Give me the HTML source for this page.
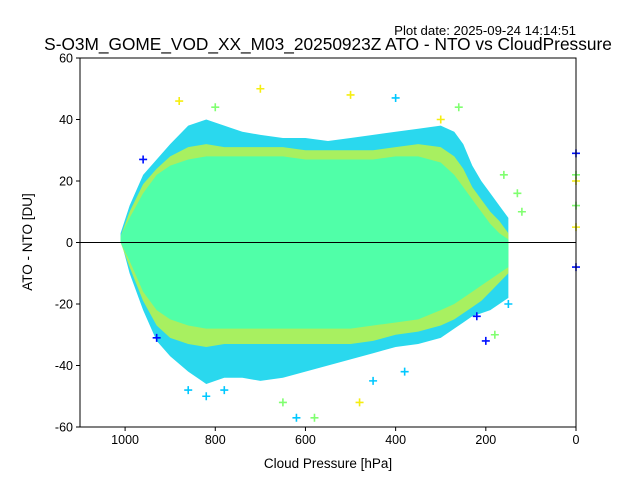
<!DOCTYPE html>
<html><head><meta charset="utf-8"><style>
body{margin:0;background:#fff;}
svg{display:block;font-family:"Liberation Sans","DejaVu Sans",sans-serif;}
</style></head><body>
<svg id="chart" width="640" height="480" viewBox="0 0 640 480">
<rect width="640" height="480" fill="#fff"/>
<text x="576" y="35" text-anchor="end" font-size="13.2">Plot date: 2025-09-24 14:14:51</text>
<text x="328" y="50" text-anchor="middle" font-size="17.3">S-O3M_GOME_VOD_XX_M03_20250923Z ATO - NTO vs CloudPressure</text>
<g id="marks"></g>
<g id="axes"></g>
<text x="328" y="468" text-anchor="middle" font-size="13.5">Cloud Pressure [hPa]</text>
<text x="32" y="242" text-anchor="middle" font-size="13.5" transform="rotate(-90 32 242)">ATO - NTO [DU]</text>
</svg>
<script>
const pressures=[1010,990,960,930,900,860,820,780,740,700,650,600,550,500,450,400,350,300,270,250,230,210,190,170,150];
const outerHi=[3,12,22,27,32,38,40,38,36,35,34,34,33,34,35,36,37,38,36,32,25,20,16,12,8];
const outerLo=[1,-10,-22,-32,-37,-42,-46,-44,-44,-45,-44,-42,-40,-38,-36,-34,-33,-31,-28,-26,-24,-23,-22,-20,-18];
const yelHi=[2,10,19,24,28,31,32,31,31,31,31,30,30,30,30,31,32,31,28,24,18,14,10,7,3];
const yelLo=[0,-8,-19,-27,-31,-33,-34,-33,-33,-33,-33,-33,-33,-33,-32,-30,-29,-27,-25,-23,-21,-19,-16,-13,-10];
const innerHi=[2,8,16,22,25,27,28,28,28,28,28,27,27,27,27,28,28,26,22,18,14,10,6,3,1];
const innerLo=[0,-6,-16,-22,-25,-27,-28,-28,-28,-28,-28,-28,-28,-28,-27,-26,-25,-22,-20,-18,-16,-14,-12,-10,-8];
const outP=[960,930,880,860,820,800,780,700,650,620,580,500,480,450,400,380,300,260,220,200,180,160,150,130,120,0,0,0,0,0,0];
const outV=[27,-31,46,-48,-50,44,-48,50,-52,-57,-57,48,-52,-45,47,-42,40,44,-24,-32,-30,22,-20,16,10,29,20,12,5,-8,22];
const outC=["#0010ff","#0010ff","#f5ee10","#00c8ff","#00c8ff","#80ff70","#00c8ff","#f5ee10","#80ff70","#00c8ff","#80ff70","#f5ee10","#f5ee10","#00c8ff","#00c8ff","#00c8ff","#f5ee10","#80ff70","#0010ff","#0010ff","#80ff70","#80ff70","#00c8ff","#80ff70","#80ff70","#0010ff","#f5ee10","#80ff70","#f5ee10","#0010ff","#80ff70"];
const xTicks=[1000,800,600,400,200,0];
const yTicks=[60,40,20,0,-20,-40,-60];
const L=80,R=576,T=58,B=427;
const xs=p=>L+(1100-p)/1100*(R-L);
const ys=v=>T+(60-v)/120*(B-T);
const NS="http://www.w3.org/2000/svg";
const marks=document.getElementById('marks'),axes=document.getElementById('axes');
function mk(tag,attrs,parent){const e=document.createElementNS(NS,tag);for(const k in attrs)e.setAttribute(k,attrs[k]);parent.appendChild(e);return e;}
function band(hi,lo,fill){let pts=pressures.map((p,i)=>xs(p)+','+ys(hi[i]));for(let i=pressures.length-1;i>=0;i--)pts.push(xs(pressures[i])+','+ys(lo[i]));return mk('polygon',{points:pts.join(' '),fill:fill},marks);}
const ob=band(outerHi,outerLo,"#2ad8ee");


const yb=band(yelHi,yelLo,"#a8f060");


const ib=band(innerHi,innerLo,"#50ffa8");


outP.forEach((p,i)=>{const x=xs(p),y=ys(outV[i]);
const g=mk('path',{d:`M${x-4} ${y}H${x+4}M${x} ${y-4}V${y+4}`,stroke:outC[i],'stroke-width':1.6},marks);

});
const zl=mk('line',{x1:L,x2:R,y1:ys(0),y2:ys(0),stroke:'#000','stroke-width':1},axes);


const fr=mk('rect',{x:L,y:T,width:R-L,height:B-T,fill:'none',stroke:'#000','stroke-width':1},axes);


xTicks.forEach(t=>{const x=xs(t);mk('line',{x1:x,x2:x,y1:B,y2:B+4,stroke:'#000'},axes);
const tx=mk('text',{x:x,y:B+17,'text-anchor':'middle','font-size':12.5},axes);tx.textContent=t;

});
yTicks.forEach(t=>{const y=ys(t);mk('line',{x1:L-4,x2:L,y1:y,y2:y,stroke:'#000'},axes);
const tx=mk('text',{x:L-7,y:y+4.5,'text-anchor':'end','font-size':12.5},axes);tx.textContent=t;

});
</script>
</body></html>
